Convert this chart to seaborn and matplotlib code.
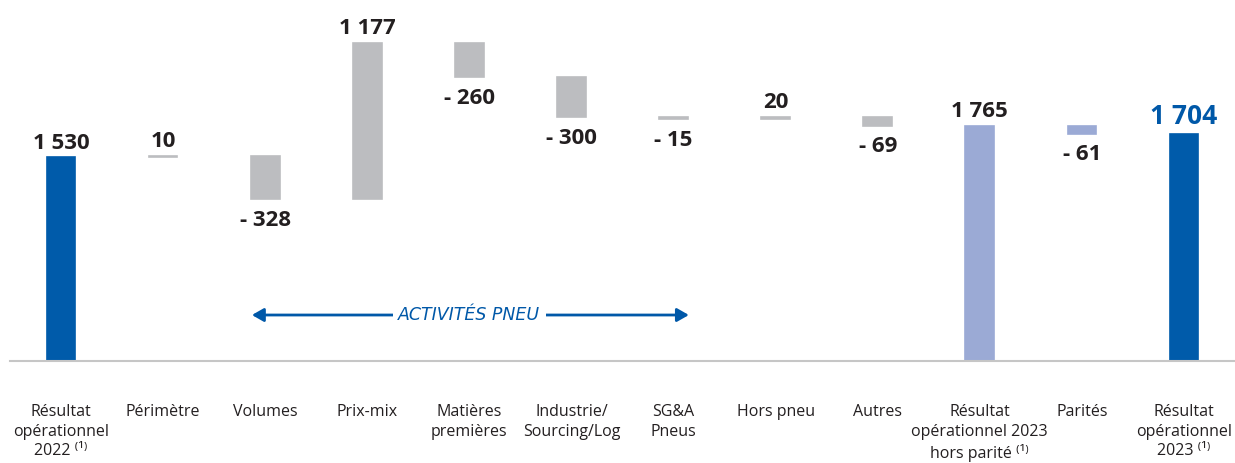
import matplotlib
matplotlib.use("Agg")
import matplotlib.pyplot as plt
import seaborn as sns
import numpy as np

# data
categories = ["r2022", "perimetre", "volumes", "prixmix", "matieres", "industrie",
              "sga", "horspneu", "autres", "r2023hp", "parites", "r2023"]
tick_labels = [
    "Résultat\nopérationnel\n2022 ⁽¹⁾",
    "Périmètre",
    "Volumes",
    "Prix-mix",
    "Matières\npremières",
    "Industrie/\nSourcing/Log",
    "SG&A\nPneus",
    "Hors pneu",
    "Autres",
    "Résultat\nopérationnel 2023\nhors parité ⁽¹⁾",
    "Parités",
    "Résultat\nopérationnel\n2023 ⁽¹⁾",
]
values = [1530, 10, -328, 1177, -260, -300, -15, 20, -69, 1765, -61, 1704]
kinds = ["total", "delta", "delta", "delta", "delta", "delta", "delta", "delta",
         "delta", "total", "delta", "total"]
bar_colors = ["#005BAA", "#BCBDC0", "#BCBDC0", "#BCBDC0", "#BCBDC0", "#BCBDC0",
              "#BCBDC0", "#BCBDC0", "#BCBDC0", "#9BAAD5", "#9BAAD5", "#005BAA"]

TEXT = "#231F20"
BLUE = "#0058A8"


def fmt(v):
    s = f"{abs(v):,}".replace(",", " ")
    return f"- {s}" if v < 0 else s


# running bottoms for the waterfall
bottoms = []
running = 0
for v, k in zip(values, kinds):
    if k == "total":
        bottoms.append(0)
        running = v
    else:
        bottoms.append(running)
        running += v

sns.set_style("white")
plt.rcParams["font.family"] = ["Open Sans", "DejaVu Sans"]

fig = plt.figure(figsize=(12.35, 4.63), dpi=100)
ax = fig.add_axes([10 / 1235, 102 / 463, 1225 / 1235, 361 / 463])

sns.barplot(x=categories, y=values, hue=categories, palette=bar_colors,
            order=categories, hue_order=categories, width=0.28, legend=False,
            saturation=1, ax=ax)

# move each bar to its waterfall position; thin edge keeps tiny steps visible
for patch, b in zip(ax.patches, bottoms):
    patch.set_y(b)
    patch.set_edgecolor(patch.get_facecolor())
    patch.set_linewidth(1.2)

ax.set_xlim(-0.5, len(categories) - 0.5)
ax.set_ylim(0, 2708)

# value labels
for i, (v, k, b) in enumerate(zip(values, kinds, bottoms)):
    top = b + v if v > 0 else b
    if i == len(values) - 1:
        ax.annotate(fmt(v), (i, top), xytext=(0, 7), textcoords="offset points",
                    ha="center", va="baseline", fontsize=19, fontweight="bold",
                    color=BLUE)
    elif v > 0:
        ax.annotate(fmt(v), (i, top), xytext=(0, 6), textcoords="offset points",
                    ha="center", va="baseline", fontsize=16, fontweight="bold",
                    color=TEXT)
    else:
        low = b + v
        ax.annotate(fmt(v), (i, low), xytext=(0, -19), textcoords="offset points",
                    ha="center", va="baseline", fontsize=16, fontweight="bold",
                    color=TEXT)

# "ACTIVITÉS PNEU" bracket
ax.annotate("", xy=(1.87, 345), xytext=(6.15, 345),
            arrowprops=dict(arrowstyle="<|-|>,head_length=0.7,head_width=0.4",
                            color=BLUE, lw=2, shrinkA=0, shrinkB=0))
ax.text(4.0, 345, "ACTIVITÉS PNEU", ha="center", va="center", fontsize=12.5,
        style="italic", color=BLUE, family="DejaVu Sans",
        bbox=dict(facecolor="white", edgecolor="none", pad=4))

ax.set_xticks(range(len(categories)))
ax.set_xticklabels(tick_labels, fontsize=11.5, color=TEXT, linespacing=1.3,
                   va="top")
ax.tick_params(axis="x", length=0, pad=31)
ax.set_yticks([])
ax.set_xlabel("")
ax.set_ylabel("")

for side in ["top", "left", "right"]:
    ax.spines[side].set_visible(False)
ax.spines["bottom"].set_color("#C6C6C6")
ax.spines["bottom"].set_linewidth(1.5)

fig.savefig("out.png", dpi=100)
